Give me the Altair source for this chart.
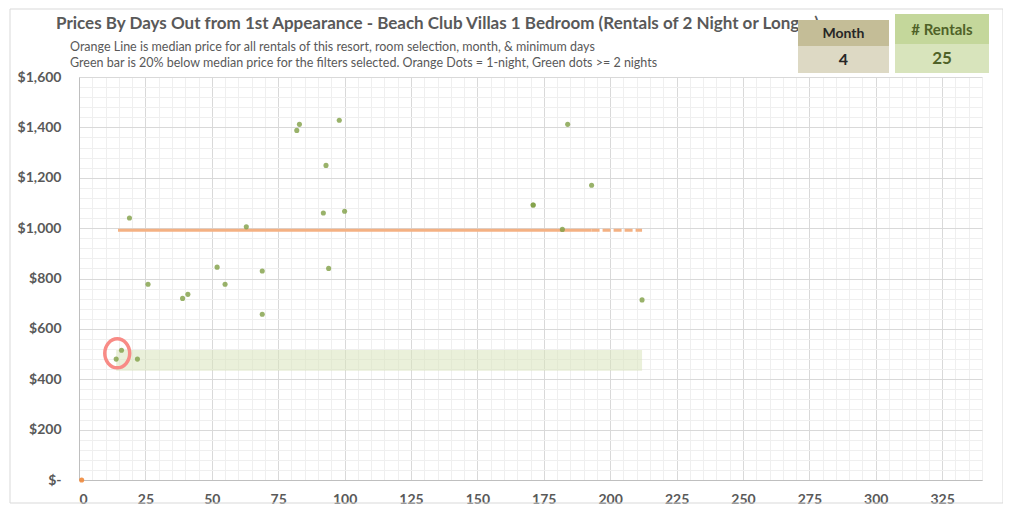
import altair as alt
import pandas as pd

# ---------------- data ----------------
days_out = [14, 16, 22, 19, 26, 39, 41, 52, 55, 63, 69, 69, 82, 83, 92, 93, 94, 98, 100,
            171, 171, 182, 184, 193, 212]
prices = [480, 515, 480, 1040, 777, 721, 737, 845, 777, 1005, 830, 658, 1388, 1412, 1060,
          1249, 840, 1428, 1067, 1092, 1092, 995, 1412, 1170, 715]
one_night_days = [1]
one_night_prices = [0]

median_price = 992
median_solid_days = [14.7, 193]
median_dash_days = [193, 212]
green_bar_days = [14, 212]
green_bar_prices = [434, 516]

circle_day = [14.4]
circle_price = [503]

box_labels = ["Month", "# Rentals"]
box_values = ["4", "25"]

title_text = "Prices By Days Out from 1st Appearance - Beach Club Villas 1 Bedroom (Rentals of 2 Night or Longer)"
subtitle_lines = [
    "Orange Line is median price for all rentals of this resort, room selection, month, & minimum days",
    "Green bar is 20% below median price for the filters selected. Orange Dots = 1-night, Green dots >= 2 nights",
]

x_ticks = list(range(0, 341, 5))
y_ticks = list(range(0, 1601, 40))

FONT = "Lato"
GRAY = "#595959"

# ---------------- shared scales / axes ----------------
grid_x = {"condition": {"test": "datum.value % 25 === 0", "value": "#d9d9d9"}, "value": "#efefef"}
grid_y = {"condition": {"test": "datum.value % 200 === 0", "value": "#d9d9d9"}, "value": "#efefef"}

x_axis = alt.Axis(values=x_ticks, labelExpr="datum.value % 25 === 0 ? datum.label : ''",
                  labelOverlap=False, ticks=False, gridColor=grid_x, gridWidth=1,
                  domainColor="#bfbfbf", labelFont=FONT, labelFontSize=14, labelFontWeight="bold",
                  labelColor=GRAY, labelPadding=12, title=None)
y_axis = alt.Axis(values=y_ticks,
                  labelExpr="datum.value === 0 ? '$-' : (datum.value % 200 === 0 ? '$' + format(datum.value, ',') : '')",
                  labelOverlap=False, ticks=False, gridColor=grid_y, gridWidth=1,
                  domainColor="#bfbfbf", labelFont=FONT, labelFontSize=14, labelFontWeight="bold",
                  labelColor=GRAY, labelPadding=18, title=None)
x_scale = alt.Scale(domain=[0, 340], nice=False, zero=False)
y_scale = alt.Scale(domain=[0, 1600], nice=False, zero=False)


def X(f):
    return alt.X(f, type="quantitative", scale=x_scale, axis=x_axis)


def Y(f):
    return alt.Y(f, type="quantitative", scale=y_scale, axis=y_axis)


one = pd.DataFrame({"k": [0]})

border = alt.Chart(one).mark_rect(fill="transparent", stroke="#d9d9d9", strokeWidth=1).encode(
    x=alt.value(-69), x2=alt.value(924), y=alt.value(-68), y2=alt.value(426))

bar_df = pd.DataFrame({"x": [green_bar_days[0]], "x2": [green_bar_days[1]],
                       "y": [green_bar_prices[0]], "y2": [green_bar_prices[1]]})
bar = alt.Chart(bar_df).mark_rect(color="#d8e4bc", opacity=0.55).encode(
    x=X("x"), x2="x2", y=Y("y"), y2="y2")

med_solid = alt.Chart(pd.DataFrame({"x": median_solid_days, "y": [median_price] * 2})).mark_line(
    color="#f4b183", strokeWidth=3).encode(x=X("x"), y=Y("y"))
med_dash = alt.Chart(pd.DataFrame({"x": median_dash_days, "y": [median_price] * 2})).mark_line(
    color="#f4b183", strokeWidth=3, strokeDash=[8, 3]).encode(x=X("x"), y=Y("y"))

dots = alt.Chart(pd.DataFrame({"x": days_out, "y": prices})).mark_circle(
    color="#7f9f45", opacity=0.8, size=26).encode(x=X("x"), y=Y("y"))
orange_dots = alt.Chart(pd.DataFrame({"x": one_night_days, "y": one_night_prices})).mark_circle(
    color="#f08a3c", opacity=0.9, size=26).encode(x=X("x"), y=Y("y"))

# ellipse outline (unit square path, rx=0.86, ry=1)
a, k = 0.86, 0.5523
ell_path = (f"M0,-1 C{k*a:.3f},-1 {a},-{k} {a},0 C{a},{k} {k*a:.3f},1 0,1 "
            f"C-{k*a:.3f},1 -{a},{k} -{a},0 C-{a},-{k} -{k*a:.3f},-1 0,-1 Z")
ellipse = alt.Chart(pd.DataFrame({"x": circle_day, "y": circle_price})).mark_point(
    shape=ell_path, size=841, filled=False,
    stroke="#f88b86", strokeWidth=3.5, opacity=1).encode(x=X("x"), y=Y("y"))

title = alt.Chart(pd.DataFrame({"t": [title_text]})).mark_text(
    align="left", baseline="middle", font=FONT, fontSize=17, fontWeight="bold", color=GRAY).encode(
    x=alt.value(-23), y=alt.value(-53), text="t:N")
sub1 = alt.Chart(pd.DataFrame({"t": [subtitle_lines[0]]})).mark_text(
    align="left", baseline="middle", font=FONT, fontSize=12.5, color=GRAY).encode(
    x=alt.value(-9), y=alt.value(-30), text="t:N")
sub2 = alt.Chart(pd.DataFrame({"t": [subtitle_lines[1]]})).mark_text(
    align="left", baseline="middle", font=FONT, fontSize=12.5, color=GRAY).encode(
    x=alt.value(-9), y=alt.value(-14), text="t:N")

# info boxes (Month / # Rentals)
m_head = alt.Chart(one).mark_rect(color="#c4bd97").encode(
    x=alt.value(719), x2=alt.value(810), y=alt.value(-57), y2=alt.value(-31))
m_val = alt.Chart(one).mark_rect(color="#ddd9c4").encode(
    x=alt.value(719), x2=alt.value(810), y=alt.value(-31), y2=alt.value(-4))
r_head = alt.Chart(one).mark_rect(color="#c4d79b").encode(
    x=alt.value(816), x2=alt.value(910), y=alt.value(-63), y2=alt.value(-33))
r_val = alt.Chart(one).mark_rect(color="#d8e4bc").encode(
    x=alt.value(816), x2=alt.value(910), y=alt.value(-33), y2=alt.value(-4))

m_lab = alt.Chart(pd.DataFrame({"t": [box_labels[0]]})).mark_text(
    font=FONT, fontSize=14, fontWeight="bold", color="#262626", baseline="middle").encode(
    x=alt.value(764.5), y=alt.value(-43), text="t:N")
m_num = alt.Chart(pd.DataFrame({"t": [box_values[0]]})).mark_text(
    font=FONT, fontSize=16, fontWeight="bold", color="#262626", baseline="middle").encode(
    x=alt.value(764.5), y=alt.value(-17), text="t:N")
r_lab = alt.Chart(pd.DataFrame({"t": [box_labels[1]]})).mark_text(
    font=FONT, fontSize=15, fontWeight="bold", color="#4f6228", baseline="middle").encode(
    x=alt.value(863), y=alt.value(-47), text="t:N")
r_num = alt.Chart(pd.DataFrame({"t": [box_values[1]]})).mark_text(
    font=FONT, fontSize=17, fontWeight="bold", color="#4f6228", baseline="middle").encode(
    x=alt.value(863), y=alt.value(-18), text="t:N")

chart = alt.layer(
    border, bar, med_solid, med_dash, dots, orange_dots, ellipse,
    title, sub1, sub2, m_head, m_val, r_head, r_val, m_lab, m_num, r_lab, r_num
).properties(
    width=903, height=403,
    padding={"left": 71, "top": 69, "right": 21, "bottom": 28},
    autosize=alt.AutoSizeParams(type="none"),
    background="white",
).configure_view(stroke=None)

chart.save("out.html", embed_options={"renderer": "svg", "actions": False})
